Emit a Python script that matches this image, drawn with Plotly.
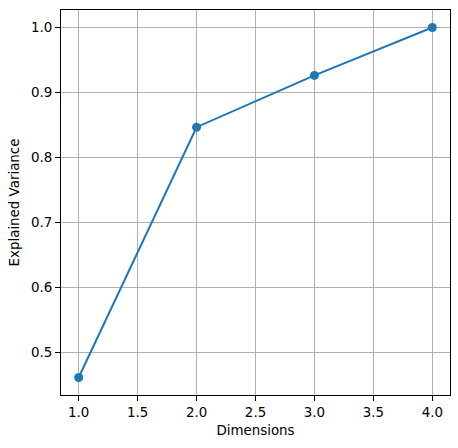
import plotly.graph_objects as go

dimensions = [1, 2, 3, 4]
explained_variance = [0.4616, 0.8466, 0.9263, 1.0]
x_ticks = [1.0, 1.5, 2.0, 2.5, 3.0, 3.5, 4.0]
y_ticks = [0.5, 0.6, 0.7, 0.8, 0.9, 1.0]

fig = go.Figure()
fig.add_trace(go.Scatter(
    x=dimensions, y=explained_variance, mode="lines+markers",
    line=dict(color="#1f77b4", width=2),
    marker=dict(color="#1f77b4", size=9),
))

font = dict(family="DejaVu Sans", size=13.4, color="black")
axis_common = dict(
    showline=True, linecolor="black", linewidth=1, mirror=True,
    ticks="outside", ticklen=5, tickwidth=1, tickcolor="black",
    showgrid=True, gridcolor="#b0b0b0", gridwidth=1,
    zeroline=False, tickfont=font,
)
fig.update_xaxes(range=[0.85, 4.15], tickvals=x_ticks,
                 ticktext=[f"{v:.1f}" for v in x_ticks],
                 title=dict(text="Dimensions", font=font, standoff=6), **axis_common)
fig.update_yaxes(range=[0.4346, 1.0269], tickvals=y_ticks,
                 ticktext=[f"{v:.1f}" for v in y_ticks],
                 title=dict(text="Explained Variance", font=font, standoff=8), **axis_common)
fig.update_layout(
    width=458, height=448,
    margin=dict(l=61, r=8, t=10, b=53, pad=0),
    plot_bgcolor="white", paper_bgcolor="white",
    showlegend=False, font=font,
)
fig.write_html("out.html")
